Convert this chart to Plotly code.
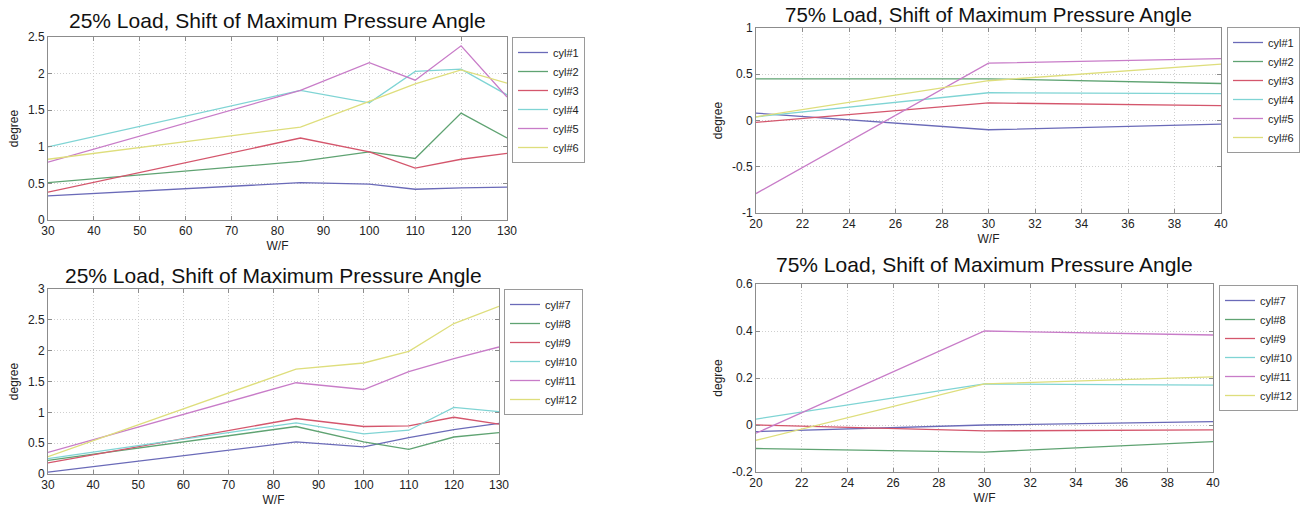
import plotly.graph_objects as go

# ---------------- data ----------------
wf_25 = [30, 85, 100, 110, 120, 130]
wf_75 = [20, 30, 40]

# 25% load, cylinders 1-6
l25_cyl1 = [0.33, 0.51, 0.49, 0.42, 0.44, 0.45]
l25_cyl2 = [0.51, 0.80, 0.93, 0.84, 1.46, 1.12]
l25_cyl3 = [0.38, 1.12, 0.93, 0.71, 0.83, 0.91]
l25_cyl4 = [1.00, 1.77, 1.60, 2.03, 2.06, 1.71]
l25_cyl5 = [0.79, 1.77, 2.15, 1.91, 2.38, 1.68]
l25_cyl6 = [0.83, 1.27, 1.62, 1.86, 2.05, 1.87]

# 25% load, cylinders 7-12
l25_cyl7 = [0.03, 0.52, 0.44, 0.59, 0.72, 0.82]
l25_cyl8 = [0.22, 0.77, 0.52, 0.40, 0.60, 0.67]
l25_cyl9 = [0.18, 0.90, 0.77, 0.78, 0.92, 0.81]
l25_cyl10 = [0.25, 0.83, 0.65, 0.71, 1.08, 1.01]
l25_cyl11 = [0.35, 1.48, 1.37, 1.66, 1.87, 2.06]
l25_cyl12 = [0.28, 1.70, 1.80, 1.99, 2.44, 2.72]

# 75% load, cylinders 1-6
l75_cyl1 = [0.08, -0.10, -0.04]
l75_cyl2 = [0.45, 0.45, 0.40]
l75_cyl3 = [-0.02, 0.19, 0.16]
l75_cyl4 = [0.04, 0.30, 0.29]
l75_cyl5 = [-0.79, 0.62, 0.67]
l75_cyl6 = [0.04, 0.43, 0.61]

# 75% load, cylinders 7-12
l75_cyl7 = [-0.028, 0.0, 0.014]
l75_cyl8 = [-0.10, -0.115, -0.071]
l75_cyl9 = [0.0, -0.025, -0.021]
l75_cyl10 = [0.025, 0.175, 0.17]
l75_cyl11 = [-0.035, 0.40, 0.383]
l75_cyl12 = [-0.065, 0.175, 0.205]

names_a = ["cyl#1", "cyl#2", "cyl#3", "cyl#4", "cyl#5", "cyl#6"]
names_b = ["cyl#7", "cyl#8", "cyl#9", "cyl#10", "cyl#11", "cyl#12"]

title_25 = "25% Load, Shift of Maximum Pressure Angle"
title_75 = "75% Load, Shift of Maximum Pressure Angle"
x_title = "W/F"
y_title = "degree"

x25_ticks = [30, 40, 50, 60, 70, 80, 90, 100, 110, 120, 130]
x75_ticks = [20, 22, 24, 26, 28, 30, 32, 34, 36, 38, 40]
y_tl_ticks = [0, 0.5, 1, 1.5, 2, 2.5]
y_tl_labels = ["0", "0.5", "1", "1.5", "2", "2.5"]
y_bl_ticks = [0, 0.5, 1, 1.5, 2, 2.5, 3]
y_bl_labels = ["0", "0.5", "1", "1.5", "2", "2.5", "3"]
y_tr_ticks = [-1, -0.5, 0, 0.5, 1]
y_tr_labels = ["-1", "-0.5", "0", "0.5", "1"]
y_br_ticks = [-0.2, 0, 0.2, 0.4, 0.6]
y_br_labels = ["-0.2", "0", "0.2", "0.4", "0.6"]

# ---------------- style ----------------
colors = ["#6a6ab8", "#5fa372", "#d4566c", "#7fd4d4", "#c87cc8", "#dede7c"]
W, H = 1304, 510
FONT = "Liberation Sans, Arial, sans-serif"
FRAME = "#8c8c8c"
GRID = "#cfcfcf"


def px_x(a, b):
    return [a / W, b / W]


def px_y(top, bottom):
    return [1 - bottom / H, 1 - top / H]


panels = [
    dict(x=wf_25, ys=[l25_cyl1, l25_cyl2, l25_cyl3, l25_cyl4, l25_cyl5, l25_cyl6],
         names=names_a, ax="", leg="legend", dx=px_x(48, 507), dy=px_y(37, 220),
         lx=512, ly=37, xr=[30, 130], yr=[0, 2.5], xt=x25_ticks,
         yt=y_tl_ticks, yl=y_tl_labels, title=title_25, tshift=3, tsize=21),
    dict(x=wf_75, ys=[l75_cyl1, l75_cyl2, l75_cyl3, l75_cyl4, l75_cyl5, l75_cyl6],
         names=names_a, ax="2", leg="legend2", dx=px_x(756, 1221), dy=px_y(28, 213),
         lx=1227, ly=27, xr=[20, 40], yr=[-1, 1], xt=x75_ticks,
         yt=y_tr_ticks, yl=y_tr_labels, title=title_75, tshift=None, tsize=20.5),
    dict(x=wf_25, ys=[l25_cyl7, l25_cyl8, l25_cyl9, l25_cyl10, l25_cyl11, l25_cyl12],
         names=names_b, ax="3", leg="legend3", dx=px_x(48, 499), dy=px_y(289, 474),
         lx=504, ly=289, xr=[30, 130], yr=[0, 3], xt=x25_ticks,
         yt=y_bl_ticks, yl=y_bl_labels, title=title_25, tshift=0, tsize=21),
    dict(x=wf_75, ys=[l75_cyl7, l75_cyl8, l75_cyl9, l75_cyl10, l75_cyl11, l75_cyl12],
         names=names_b, ax="4", leg="legend4", dx=px_x(756, 1213), dy=px_y(284, 472),
         lx=1219, ly=285, xr=[20, 40], yr=[-0.2, 0.6], xt=x75_ticks,
         yt=y_br_ticks, yl=y_br_labels, title=title_75, tshift=6, tsize=21),
]

fig = go.Figure()
layout = dict(
    width=W, height=H, margin=dict(l=0, r=0, t=0, b=0),
    paper_bgcolor="white", plot_bgcolor="white",
    font=dict(family=FONT, size=12, color="#222222"),
    annotations=[],
)

for p in panels:
    for ys, name, col in zip(p["ys"], p["names"], colors):
        fig.add_trace(go.Scatter(
            x=p["x"], y=ys, name=name, mode="lines",
            line=dict(color=col, width=1.3),
            xaxis="x" + p["ax"], yaxis="y" + p["ax"], legend=p["leg"],
        ))
    axis_common = dict(
        showline=True, linecolor=FRAME, linewidth=1, mirror="ticks",
        ticks="inside", ticklen=4, tickcolor=FRAME,
        showgrid=True, gridcolor=GRID, griddash="1px,2px", gridwidth=1,
        zeroline=False, automargin=False,
        tickfont=dict(family=FONT, size=12, color="#222222"),
    )
    layout["xaxis" + p["ax"]] = dict(
        axis_common, domain=p["dx"], range=p["xr"], tickvals=p["xt"],
        anchor="y" + p["ax"],
        title=dict(text=x_title, font=dict(size=12), standoff=4),
    )
    layout["yaxis" + p["ax"]] = dict(
        axis_common, domain=p["dy"], range=p["yr"], tickvals=p["yt"],
        ticktext=p["yl"], anchor="x" + p["ax"],
        title=dict(text=y_title, font=dict(size=12), standoff=6),
    )
    layout[p["leg"]] = dict(
        x=p["lx"] / W, y=1 - p["ly"] / H, xanchor="left", yanchor="top",
        bordercolor="#9a9a9a", borderwidth=1, bgcolor="white",
        font=dict(family=FONT, size=11, color="#222222"),
        itemwidth=30, tracegroupgap=0,
    )
    ann = dict(
        text=p["title"], xref="paper", yref="paper",
        x=(p["dx"][0] + p["dx"][1]) / 2,
        xanchor="center", showarrow=False,
        font=dict(family=FONT, size=p["tsize"], color="#111111"),
    )
    if p["tshift"] is None:
        ann.update(y=1, yanchor="top", yshift=-1)
    else:
        ann.update(y=p["dy"][1], yanchor="bottom", yshift=p["tshift"])
    layout["annotations"].append(ann)

fig.update_layout(**layout)
fig.write_html("out.html")
